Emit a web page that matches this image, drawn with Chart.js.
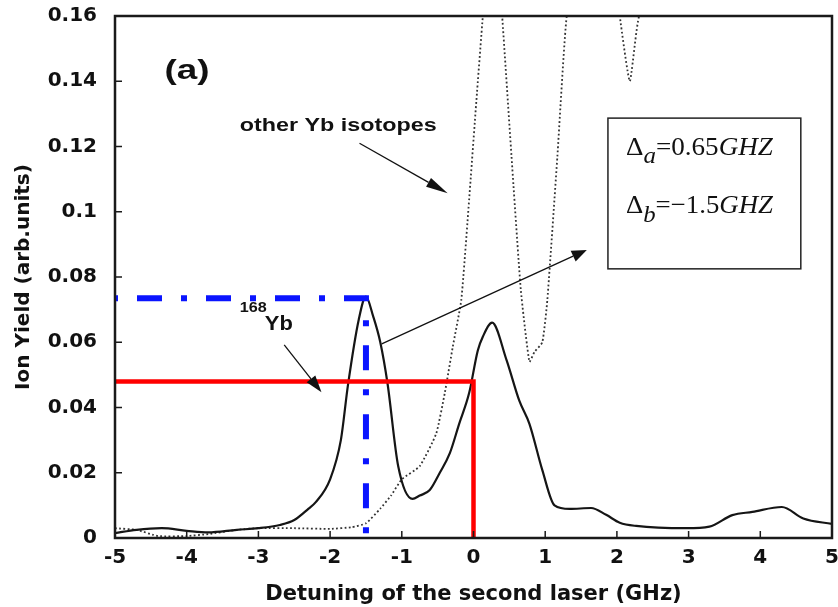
<!DOCTYPE html>
<html>
<head>
<meta charset="utf-8">
<script src="https://cdn.jsdelivr.net/npm/chart.js@4.4.1/dist/chart.umd.min.js"></script>
<style>
  html, body { margin: 0; padding: 0; background: #fff; }
  #wrap { width: 838px; height: 607px; }
</style>
</head>
<body>
<div id="wrap"><canvas id="chart" width="838" height="607"></canvas></div>
<script>
// 168Yb measured ion yield (solid line)
const yb168X = [-5.0, -4.7, -4.35, -4.0, -3.7, -3.3, -3.0, -2.7, -2.5, -2.3, -2.2, -2.0, -1.85, -1.75, -1.6, -1.5,
  -1.4, -1.3, -1.2, -1.05, -0.85, -0.75, -0.61, -0.47, -0.33, -0.2, -0.06, 0.06, 0.13, 0.26, 0.46, 0.64, 0.78,
  0.96, 1.13, 1.34, 1.64, 1.85, 2.04, 2.27, 2.97, 3.29, 3.61, 3.89, 4.3, 4.6, 5.0];
const yb168Y = [0.0015, 0.0025, 0.003, 0.0022, 0.0017, 0.0025, 0.003, 0.004, 0.0055, 0.009, 0.011, 0.018, 0.030, 0.047, 0.067, 0.074,
  0.068, 0.060, 0.0475, 0.022, 0.012, 0.013, 0.0147, 0.020, 0.026, 0.035, 0.0445, 0.0575, 0.0617, 0.066, 0.0546, 0.042, 0.035,
  0.0208, 0.010, 0.0089, 0.0092, 0.0071, 0.0047, 0.0037, 0.003, 0.0035, 0.007, 0.008, 0.0095, 0.006, 0.0043];

// other Yb isotopes (dotted line), goes off the top of the plot
const otherX = [-5.0, -4.7, -4.4, -4.0, -3.7, -3.3, -3.0, -2.5, -2.0, -1.7, -1.5, -1.3, -1.15, -1.0, -0.75, -0.52, -0.4,
  -0.29, -0.17, -0.06, 0.04, 0.13, 0.27, 0.4, 0.53, 0.66, 0.78, 0.85, 0.96, 1.03, 1.17, 1.3, 1.6, 2.0, 2.04, 2.18,
  2.31, 2.5, 2.9, 3.0];
const otherY = [0.003, 0.0025, 0.0006, 0.0006, 0.0012, 0.0025, 0.003, 0.003, 0.0028, 0.0033, 0.0045, 0.009, 0.013, 0.018, 0.022, 0.032, 0.0445,
  0.0585, 0.073, 0.104, 0.134, 0.16, 0.2, 0.16, 0.117, 0.076, 0.054, 0.057, 0.06, 0.073, 0.117, 0.16, 0.2, 0.17, 0.16, 0.14,
  0.16, 0.162, 0.161, 0.2];

// guide lines
const redX = [-5, 0, 0];
const redY = [0.048, 0.048, 0];
const blueX = [-5, -1.5, -1.5];
const blueY = [0.0735, 0.0735, 0];

const xTicks = [-5, -4, -3, -2, -1, 0, 1, 2, 3, 4, 5];
const yTicks = [0, 0.02, 0.04, 0.06, 0.08, 0.1, 0.12, 0.14, 0.16];

const pts = (xs, ys) => xs.map((x, i) => ({ x: x, y: ys[i] }));

function fitText(ctx, text, x, y, font, w) {
  ctx.save();
  ctx.font = font;
  const s = w / ctx.measureText(text).width;
  ctx.translate(x, y);
  ctx.scale(s, 1);
  ctx.fillText(text, 0, 0);
  ctx.restore();
}

function arrow(ctx, x1, y1, x2, y2, headLen, headW) {
  const a = Math.atan2(y2 - y1, x2 - x1);
  const bx = x2 - headLen * Math.cos(a), by = y2 - headLen * Math.sin(a);
  ctx.beginPath();
  ctx.moveTo(x1, y1);
  ctx.lineTo(bx, by);
  ctx.stroke();
  ctx.beginPath();
  ctx.moveTo(x2, y2);
  ctx.lineTo(bx + headW * Math.sin(a), by - headW * Math.cos(a));
  ctx.lineTo(bx - headW * Math.sin(a), by + headW * Math.cos(a));
  ctx.closePath();
  ctx.fill();
}

const decor = {
  id: 'decor',
  afterDatasetsDraw(chart) {
    const ctx = chart.ctx;
    const a = chart.chartArea;
    const sx = chart.scales.x, sy = chart.scales.y;
    const px = v => sx.getPixelForValue(v);
    const py = v => sy.getPixelForValue(v);
    ctx.save();

    // frame
    ctx.strokeStyle = '#1a1a1a';
    ctx.lineWidth = 2.5;
    ctx.strokeRect(a.left, a.top, a.right - a.left, a.bottom - a.top);

    // inward tick marks
    ctx.lineWidth = 1.5;
    ctx.beginPath();
    yTicks.slice(1, -1).forEach(v => { ctx.moveTo(a.left, py(v)); ctx.lineTo(a.left + 7, py(v)); });
    xTicks.slice(1, -1).forEach(v => { ctx.moveTo(px(v), a.bottom); ctx.lineTo(px(v), a.bottom - 7); });
    ctx.stroke();

    // labels
    ctx.fillStyle = '#111';
    ctx.textBaseline = 'alphabetic';
    fitText(ctx, '(a)', px(-4.31), py(0.1407), 'bold 28px "Liberation Sans"', 45);
    fitText(ctx, 'other Yb isotopes', px(-3.26), py(0.1247), 'bold 19px "Liberation Sans"', 197);
    fitText(ctx, '168', px(-3.26), py(0.0693), 'bold 15px "Liberation Sans"', 27);
    fitText(ctx, 'Yb', px(-2.91), py(0.0638), 'bold 21px "Liberation Sans"', 28);

    // arrows
    ctx.strokeStyle = '#111';
    ctx.lineWidth = 1.3;
    arrow(ctx, px(-1.59), py(0.121), px(-0.36), py(0.1057), 22, 5);
    arrow(ctx, px(-2.64), py(0.0592), px(-2.12), py(0.0447), 17, 5.5);
    arrow(ctx, px(-1.28), py(0.0595), px(1.58), py(0.0883), 15, 6);

    // box with detunings
    const bl = px(1.875), br = px(4.565), bt = py(0.1287), bb = py(0.0825);
    ctx.fillStyle = '#fff';
    ctx.fillRect(bl, bt, br - bl, bb - bt);
    ctx.strokeStyle = '#222';
    ctx.lineWidth = 1.5;
    ctx.strokeRect(bl, bt, br - bl, bb - bt);

    ctx.fillStyle = '#111';
    const up = '26px "Liberation Serif"', it = 'italic 26px "Liberation Serif"', sub = 'italic 24px "Liberation Serif"';
    const lines = [
      { y: py(0.1174), parts: [['Δ', up, 0], ['a', sub, 8], ['=0.65', up, 0], ['GHZ', it, 0]] },
      { y: py(0.0996), parts: [['Δ', up, 0], ['b', sub, 9], ['=−1.5', up, 0], ['GHZ', it, 0]] }
    ];
    lines.forEach(ln => {
      let total = 0;
      ln.parts.forEach(p => { ctx.font = p[1]; total += ctx.measureText(p[0]).width; });
      const s = 147 / total;
      let x = px(2.126);
      ln.parts.forEach(p => {
        ctx.font = p[1];
        const w = ctx.measureText(p[0]).width;
        ctx.save();
        ctx.translate(x, ln.y + p[2]);
        ctx.scale(s, 1);
        ctx.fillText(p[0], 0, 0);
        ctx.restore();
        x += w * s;
      });
    });
    ctx.restore();
  }
};

const tickFont = { family: 'DejaVu Sans', size: 20, weight: 'bold' };

new Chart(document.getElementById('chart'), {
  type: 'line',
  data: {
    datasets: [
      { data: pts(redX, redY), borderColor: '#ff0000', borderWidth: 4.5, pointRadius: 0, tension: 0 },
      { data: pts(blueX, blueY), borderColor: '#0a14ff', borderWidth: 6, borderDash: [25, 19, 6, 19],
        borderDashOffset: 47, pointRadius: 0, tension: 0 },
      { data: pts(yb168X, yb168Y), borderColor: '#151515', borderWidth: 2.2, pointRadius: 0,
        cubicInterpolationMode: 'monotone' },
      { data: pts(otherX, otherY), borderColor: '#333', borderWidth: 1.8, borderDash: [1.8, 2.4],
        pointRadius: 0, tension: 0.15 }
    ]
  },
  options: {
    responsive: false,
    animation: false,
    layout: { padding: { top: 16, right: 6, left: 0, bottom: 0 } },
    plugins: { legend: { display: false }, tooltip: { enabled: false } },
    scales: {
      x: {
        type: 'linear', min: -5, max: 5,
        afterBuildTicks: s => { s.ticks = xTicks.map(v => ({ value: v })); },
        afterFit: s => { s.height = 69; s.paddingLeft = 0; s.paddingRight = 0; },
        grid: { display: false, drawTicks: false },
        border: { display: false },
        ticks: { color: '#111', font: tickFont, padding: 8, maxRotation: 0 },
        title: { display: true, text: 'Detuning of the second laser (GHz)', color: '#111',
          font: { family: 'DejaVu Sans', size: 21, weight: 'bold', lineHeight: 1.2 }, padding: { top: 0, bottom: 0 } }
      },
      y: {
        type: 'linear', min: 0, max: 0.16,
        afterBuildTicks: s => { s.ticks = yTicks.map(v => ({ value: v })); },
        afterFit: s => { s.width = 115; s.paddingTop = 0; s.paddingBottom = 0; },
        grid: { display: false, drawTicks: false },
        border: { display: false },
        ticks: { color: '#111', font: tickFont, padding: 18, callback: v => String(+v.toFixed(2)) },
        title: { display: true, text: 'Ion Yield (arb.units)', color: '#111',
          font: { family: 'DejaVu Sans', size: 20, weight: 'bold', lineHeight: 1.2 }, padding: { top: 12, bottom: 0 } }
      }
    }
  },
  plugins: [decor]
});
</script>
</body>
</html>
